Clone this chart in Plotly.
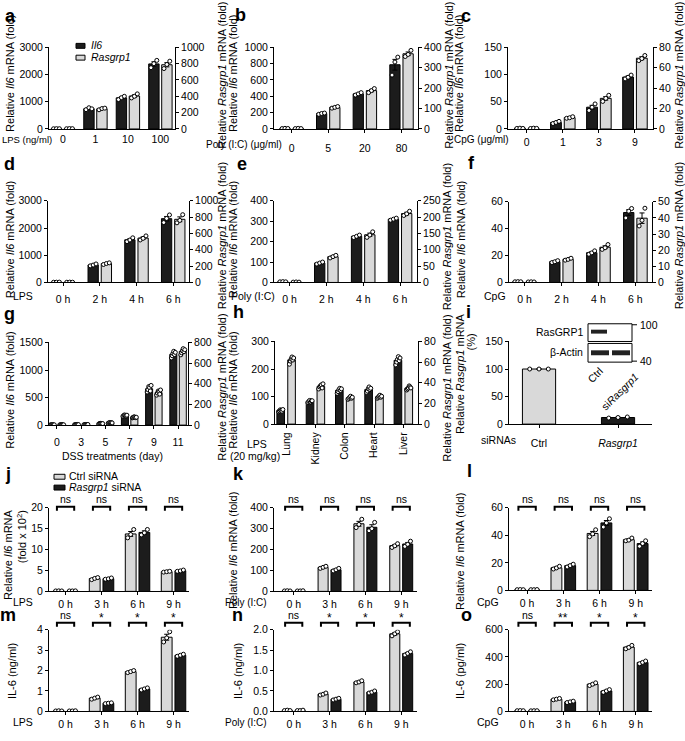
import numpy as np
import plotly.graph_objects as go

W, H = 685, 741
FONT = "Liberation Sans, Arial, Helvetica, sans-serif"
BLACK = "#1c1c1c"
GREY = "#d9d9d9"
TICK = 10.5
TITLE = 11

# ---------------- data (replicates per bar) ----------------
A_CATS = ["0", "1", "10", "100"]
A_IL6 = [[8, 12, 10], [710, 780, 740], [1080, 1150, 1200], [2250, 2400, 2520]]
A_RAS = [[3, 5, 4], [235, 250, 255], [380, 400, 430], [740, 790, 830]]

B_CATS = ["0", "5", "20", "80"]
B_IL6 = [[5, 8, 6], [180, 190, 195], [415, 430, 445], [660, 820, 880]]
B_RAS = [[2, 3, 2], [102, 106, 110], [178, 188, 198], [355, 365, 385]]

C_CATS = ["0", "1", "3", "9"]
C_IL6 = [[1, 1.5, 1], [10, 12, 14], [34, 40, 46], [92, 95, 99]]
C_RAS = [[0.5, 0.8, 0.6], [10.5, 11, 12], [27, 30, 33], [67, 69, 72]]

T_CATS = ["0 h", "2 h", "4 h", "6 h"]
D_IL6 = [[8, 10, 12], [610, 640, 680], [1500, 1560, 1640], [2200, 2350, 2480]]
D_RAS = [[3, 4, 3], [220, 232, 240], [520, 540, 570], [730, 760, 830]]
E_IL6 = [[3, 4, 3], [90, 95, 100], [220, 226, 232], [305, 310, 315]]
E_RAS = [[1, 1.5, 1], [75, 79, 83], [138, 145, 155], [205, 210, 218]]
F_IL6 = [[0.5, 0.6, 0.5], [14.8, 15.4, 16.2], [21, 22, 23.5], [48, 53, 55]]
F_RAS = [[0.3, 0.4, 0.3], [13.8, 14.3, 15], [20.5, 21.5, 23.5], [35, 38.5, 46]]

G_CATS = ["0", "3", "5", "7", "9", "11"]
G_IL6 = [[3, 5, 4, 6, 4, 5], [6, 9, 10, 8, 12, 9], [20, 28, 32, 25, 30, 27],
         [160, 175, 185, 170, 165, 180], [600, 640, 700, 680, 620, 720],
         [1220, 1260, 1300, 1340, 1280, 1320]]
G_RAS = [[2, 3, 3, 4, 2, 3], [4, 5, 6, 5, 4, 6], [18, 22, 25, 20, 24, 21],
         [70, 75, 80, 78, 72, 76], [290, 310, 330, 320, 300, 340],
         [680, 700, 720, 740, 710, 730]]

H_CATS = ["Lung", "Kidney", "Colon", "Heart", "Liver"]
H_IL6 = [[45, 48, 52, 50, 47, 53], [78, 82, 86, 80, 84, 85], [112, 118, 125, 130, 122, 128],
         [115, 120, 128, 135, 125, 130], [215, 225, 235, 245, 230, 240]]
H_RAS = [[58, 61, 63, 65, 62, 64], [34, 36, 37, 38, 35, 39], [24, 25, 26, 27, 25, 26],
         [25, 26, 27, 28, 26, 27], [33, 34, 35, 37, 36, 35]]

I_CATS = ["Ctrl", "<i>Rasgrp1</i>"]
I_VALS = [[100, 100, 100], [11, 12, 13]]

S_CATS = ["0 h", "3 h", "6 h", "9 h"]
J_CTRL = [[0.1, 0.12, 0.1], [2.8, 3.1, 3.3], [12.8, 13.6, 14.8], [4.6, 4.7, 4.8]]
J_RAS = [[0.1, 0.1, 0.12], [2.9, 3.0, 3.2], [13.5, 14.0, 14.8], [4.8, 4.9, 5.1]]
J_SIG = ["ns", "ns", "ns", "ns"]
K_CTRL = [[2, 3, 2], [110, 115, 120], [305, 320, 345], [210, 218, 228]]
K_RAS = [[2, 2, 3], [98, 103, 110], [290, 300, 330], [215, 225, 240]]
K_SIG = ["ns", "ns", "ns", "ns"]
L_CTRL = [[0.5, 0.6, 0.5], [15.5, 16.3, 17.5], [39, 41, 44], [36, 36.5, 38]]
L_RAS = [[0.5, 0.5, 0.6], [17, 18, 19], [46, 49, 52], [32, 34, 36]]
L_SIG = ["ns", "ns", "ns", "ns"]
M_CTRL = [[0.02, 0.03, 0.02], [0.6, 0.65, 0.7], [1.9, 1.95, 2.0], [3.4, 3.6, 3.9]]
M_RAS = [[0.02, 0.02, 0.03], [0.38, 0.4, 0.42], [1.05, 1.1, 1.15], [2.7, 2.75, 2.8]]
M_SIG = ["ns", "*", "*", "*"]
N_CTRL = [[0.02, 0.03, 0.02], [0.4, 0.42, 0.45], [0.7, 0.72, 0.75], [1.85, 1.9, 1.95]]
N_RAS = [[0.02, 0.02, 0.03], [0.28, 0.3, 0.32], [0.45, 0.47, 0.5], [1.38, 1.42, 1.46]]
N_SIG = ["ns", "*", "*", "*"]
O_CTRL = [[5, 6, 5], [85, 90, 95], [190, 200, 210], [460, 470, 485]]
O_RAS = [[4, 5, 5], [65, 70, 75], [140, 150, 160], [350, 360, 370]]
O_SIG = ["ns", "**", "*", "*"]

# ---------------- helpers ----------------
def X(p):
    return p / W


def Y(p):
    return 1 - p / H


layout_axes = {}
annotations = []
shapes = []
traces = []
cnt = {"x": 0, "y": 0}


def text(x, y, t, size=TITLE, angle=0, xanchor="center", bold=False, yanchor="middle"):
    if bold:
        t = "<b>" + t + "</b>"
    annotations.append(dict(x=X(x), y=Y(y), xref="paper", yref="paper", text=t, showarrow=False,
                            textangle=angle, xanchor=xanchor, yanchor=yanchor,
                            font=dict(family=FONT, size=size, color="black")))


def panel(box, xr, cats, axes, series, w, gap, xstand=0, xangle=0, xticks=True):
    L, R, T, B = box
    cnt["x"] += 1
    nx = cnt["x"]
    xid = "x" if nx == 1 else f"x{nx}"
    xkey = "xaxis" if nx == 1 else f"xaxis{nx}"
    yids = []
    for j, ax in enumerate(axes):
        cnt["y"] += 1
        ny = cnt["y"]
        yid = "y" if ny == 1 else f"y{ny}"
        ykey = "yaxis" if ny == 1 else f"yaxis{ny}"
        d = dict(domain=[Y(B), Y(T)], range=ax["range"], dtick=ax["dtick"], tick0=0,
                 anchor=xid, side=ax["side"], showline=True, linecolor="black", linewidth=1,
                 ticks="outside", ticklen=3, tickwidth=1, tickcolor="black", showgrid=False,
                 zeroline=False, tickfont=dict(family=FONT, size=TICK, color="black"),
                 fixedrange=True)
        if "fmt" in ax:
            d["tickformat"] = ax["fmt"]
        if j > 0:
            d["overlaying"] = yids[0]
        layout_axes[ykey] = d
        yids.append(yid)
    n = len(cats)
    layout_axes[xkey] = dict(domain=[X(L), X(R)], range=xr, anchor=yids[0],
                             tickvals=list(range(n)), ticktext=cats,
                             ticks="outside" if xticks else "", ticklen=3, tickwidth=1,
                             tickcolor="black", showline=True, linecolor="black", linewidth=1,
                             showgrid=False, zeroline=False, tickangle=xangle,
                             ticklabelstandoff=xstand,
                             tickfont=dict(family=FONT, size=TICK, color="black"),
                             fixedrange=True)
    idx = np.arange(n)
    for s in series:
        vals = s["data"]
        means = [float(np.mean(v)) for v in vals]
        sems = [float(np.std(v, ddof=1) / np.sqrt(len(v))) for v in vals]
        if s["pos"] == 0:
            off = -w - gap / 2
        elif s["pos"] == 1:
            off = gap / 2
        else:
            off = -w / 2
        centers = idx + off + w / 2
        yid = yids[s.get("axis", 0)]
        traces.append(go.Bar(x=idx, y=means, offset=off, width=w,
                             marker=dict(color=s["color"], line=dict(color="black", width=1)),
                             xaxis=xid, yaxis=yid, showlegend=False, hoverinfo="skip"))
        traces.append(go.Scatter(x=centers, y=means, mode="markers",
                                 marker=dict(size=2, color="rgba(0,0,0,0)"),
                                 error_y=dict(type="data", array=sems, color="black",
                                              thickness=1, width=2.5),
                                 xaxis=xid, yaxis=yid, showlegend=False, hoverinfo="skip"))
        pxs, pys = [], []
        for i, v in enumerate(vals):
            k = len(v)
            jit = np.linspace(-0.28, 0.28, k) * w
            pxs.extend(list(centers[i] + jit))
            pys.extend(v)
        traces.append(go.Scatter(x=pxs, y=pys, mode="markers",
                                 marker=dict(size=4, color="white",
                                             line=dict(color="black", width=1)),
                                 xaxis=xid, yaxis=yid, showlegend=False, hoverinfo="skip"))
    return xid


def brackets(xid, sig, top, half=0.24, drop=4, ty=None):
    for i, s in enumerate(sig):
        shapes.append(dict(type="path", xref=xid, yref="paper",
                           path=f"M {i - half},{Y(top + drop)} L {i - half},{Y(top)} "
                                f"L {i + half},{Y(top)} L {i + half},{Y(top + drop)}",
                           line=dict(color="black", width=2)))
        sz = TICK if s == "ns" else 12
        yy = ty if s == "ns" else ty + 3
        annotations.append(dict(x=i, y=Y(yy), xref=xid, yref="paper", text=s, showarrow=False,
                                xanchor="center", yanchor="middle",
                                font=dict(family=FONT, size=sz, color="black")))


IL6L = "Relative <i>Il6</i> mRNA (fold)"
RASR = "Relative <i>Rasgrp1</i> mRNA (fold)"

# ---------------- row 1 ----------------
panel((49, 175, 42, 125), [-0.43, 3.45], A_CATS,
      [dict(range=[0, 3000], dtick=1000, side="left"), dict(range=[0, 1000], dtick=200, side="right")],
      [dict(data=A_IL6, color=BLACK, pos=0, axis=0), dict(data=A_RAS, color=GREY, pos=1, axis=1)],
      w=0.32, gap=0.08, xstand=0, xticks=False)
panel((274, 418, 42, 125), [-0.48, 3.45], B_CATS,
      [dict(range=[0, 1000], dtick=200, side="left"), dict(range=[0, 400], dtick=100, side="right")],
      [dict(data=B_IL6, color=BLACK, pos=0, axis=0), dict(data=B_RAS, color=GREY, pos=1, axis=1)],
      w=0.28, gap=0.08, xstand=6)
panel((508, 653, 42, 125), [-0.52, 3.5], C_CATS,
      [dict(range=[0, 150], dtick=50, side="left"), dict(range=[0, 80], dtick=20, side="right")],
      [dict(data=C_IL6, color=BLACK, pos=0, axis=0), dict(data=C_RAS, color=GREY, pos=1, axis=1)],
      w=0.3, gap=0.08, xstand=0)

# ---------------- row 2 ----------------
panel((48, 189, 198, 281), [-0.41, 3.43], T_CATS,
      [dict(range=[0, 3000], dtick=1000, side="left"), dict(range=[0, 1000], dtick=200, side="right")],
      [dict(data=D_IL6, color=BLACK, pos=0, axis=0), dict(data=D_RAS, color=GREY, pos=1, axis=1)],
      w=0.28, gap=0.08, xstand=4)
panel((274, 417, 198, 281), [-0.42, 3.46], T_CATS,
      [dict(range=[0, 400], dtick=100, side="left"), dict(range=[0, 250], dtick=50, side="right")],
      [dict(data=E_IL6, color=BLACK, pos=0, axis=0), dict(data=E_RAS, color=GREY, pos=1, axis=1)],
      w=0.28, gap=0.08, xstand=4)
panel((509, 652, 199, 281), [-0.42, 3.45], T_CATS,
      [dict(range=[0, 60], dtick=20, side="left"), dict(range=[0, 50], dtick=10, side="right")],
      [dict(data=F_IL6, color=BLACK, pos=0, axis=0), dict(data=F_RAS, color=GREY, pos=1, axis=1)],
      w=0.28, gap=0.08, xstand=4)

# ---------------- row 3 ----------------
panel((49, 188, 342, 426), [-0.33, 5.41], G_CATS,
      [dict(range=[0, 1500], dtick=500, side="left"), dict(range=[0, 800], dtick=200, side="right")],
      [dict(data=G_IL6, color=BLACK, pos=0, axis=0), dict(data=G_RAS, color=GREY, pos=1, axis=1)],
      w=0.29, gap=0.1, xstand=4)
panel((275, 418, 341, 425), [-0.38, 4.5], H_CATS,
      [dict(range=[0, 300], dtick=100, side="left"), dict(range=[0, 80], dtick=20, side="right")],
      [dict(data=H_IL6, color=BLACK, pos=0, axis=0), dict(data=H_RAS, color=GREY, pos=1, axis=1)],
      w=0.26, gap=0.11, xstand=0, xangle=-90)
panel((509, 652, 341, 425), [-0.38, 1.43], I_CATS,
      [dict(range=[0, 150], dtick=50, side="left")],
      [dict(data=I_VALS, color=[GREY, BLACK], pos=2, axis=0)],
      w=0.42, gap=0, xstand=6)

# ---------------- row 4 ----------------
xj = panel((49, 189, 510, 595), [-0.46, 3.43], S_CATS,
           [dict(range=[0, 20], dtick=5, side="left")],
           [dict(data=J_CTRL, color=GREY, pos=0), dict(data=J_RAS, color=BLACK, pos=1)],
           w=0.3, gap=0.08, xstand=0)
xk = panel((274, 417, 510, 595), [-0.55, 3.44], S_CATS,
           [dict(range=[0, 400], dtick=100, side="left")],
           [dict(data=K_CTRL, color=GREY, pos=0), dict(data=K_RAS, color=BLACK, pos=1)],
           w=0.28, gap=0.08, xstand=0)
xl = panel((509, 652, 510, 594), [-0.5, 3.45], S_CATS,
           [dict(range=[0, 60], dtick=20, side="left")],
           [dict(data=L_CTRL, color=GREY, pos=0), dict(data=L_RAS, color=BLACK, pos=1)],
           w=0.3, gap=0.08, xstand=0)
brackets(xj, J_SIG, 509, ty=501)
brackets(xk, K_SIG, 509, ty=501)
brackets(xl, L_SIG, 509, ty=501)

# ---------------- row 5 ----------------
R5T, R5B = 634, 717
xm = panel((49, 189, R5T, R5B), [-0.46, 3.43], S_CATS,
           [dict(range=[0, 4], dtick=1, side="left")],
           [dict(data=M_CTRL, color=GREY, pos=0), dict(data=M_RAS, color=BLACK, pos=1)],
           w=0.3, gap=0.08, xstand=0)
xn = panel((274, 417, R5T, R5B), [-0.55, 3.44], S_CATS,
           [dict(range=[0, 2], dtick=0.5, side="left", fmt=".1f")],
           [dict(data=N_CTRL, color=GREY, pos=0), dict(data=N_RAS, color=BLACK, pos=1)],
           w=0.28, gap=0.08, xstand=0)
xo = panel((509, 652, R5T, R5B), [-0.5, 3.45], S_CATS,
           [dict(range=[0, 600], dtick=200, side="left")],
           [dict(data=O_CTRL, color=GREY, pos=0), dict(data=O_RAS, color=BLACK, pos=1)],
           w=0.3, gap=0.08, xstand=0)
brackets(xm, M_SIG, 627, ty=619)
brackets(xn, N_SIG, 627, ty=619)
brackets(xo, O_SIG, 627, ty=619)

# ---------------- texts ----------------
for lt, x, y in [("a", 10, 10), ("b", 240, 9), ("c", 466, 10), ("d", 9, 161), ("e", 242, 161),
                 ("f", 471, 160), ("g", 9, 313), ("h", 238, 311), ("i", 468, 311),
                 ("j", 8, 476), ("k", 238, 476), ("l", 469, 473), ("m", 8, 619),
                 ("n", 237, 619), ("o", 466, 619)]:
    text(x, y, lt, size=18, bold=True)

# y titles
for x, y, t in [(10, 69, IL6L), (222, 71, RASR), (233, 69, IL6L), (449, 71, RASR),
                (459, 69, IL6L), (679, 71, RASR),
                (10, 238, IL6L), (222, 234, RASR), (233, 238, IL6L), (447, 234, RASR),
                (461, 238, IL6L), (679, 234, RASR),
                (10, 391, IL6L), (222, 388, RASR), (233, 391, IL6L), (447, 388, RASR),
                (460, 374, "Relative <i>Rasgrp1</i> mRNA"), (471, 342, "(%)"),
                (8, 558, "Relative <i>Il6</i> mRNA"), (22, 540, "(fold x 10<sup>2</sup>)"),
                (233, 554, IL6L), (460, 554, IL6L),
                (12, 676, "IL-6 (ng/ml)"), (238, 676, "IL-6 (ng/ml)"), (460, 676, "IL-6 (pg/ml)")]:
    text(x, y, t, angle=-90)

# x prefix labels
text(0, 136, "LPS (ng/ml)", size=9.5, xanchor="left")
text(284, 141, "Poly (I:C) (μg/ml)", size=10, xanchor="right")
text(511, 136, "CpG (μg/ml)", size=10, xanchor="right")
text(23, 295, "LPS", size=TICK)
text(253, 295, "Poly (I:C)", size=TICK)
text(495, 295, "CpG", size=TICK)
text(112, 457, "DSS treatments (day)", size=TICK)
text(257, 445, "LPS", size=TICK)
text(255, 457, "(20 mg/kg)", size=TICK)
text(498, 441, "siRNAs", size=TICK)
for yy in (606, 728):
    text(23, yy, "LPS", size=TICK)
    text(246, yy, "Poly (I:C)", size=10)
    text(488, yy, "CpG", size=TICK)

# legends
def legend_box(x0, y0, x1, y1, color):
    shapes.append(dict(type="rect", xref="paper", yref="paper", x0=X(x0), x1=X(x1),
                       y0=Y(y1), y1=Y(y0), fillcolor=color, line=dict(color="black", width=1)))


legend_box(76, 38, 85, 43, BLACK)
text(89, 40, "<i>Il6</i>", size=TICK, xanchor="left")
legend_box(76, 50, 85, 55, GREY)
text(89, 52, "<i>Rasgrp1</i>", size=TICK, xanchor="left")
legend_box(54, 476, 65, 481, GREY)
text(67, 478, "Ctrl siRNA", size=TICK, xanchor="left")
legend_box(54, 487, 65, 492, BLACK)
text(67, 489, "<i>Rasgrp1</i> siRNA", size=TICK, xanchor="left")

# western blot inset
legend_box(588, 323, 632, 341, "white")
legend_box(588, 343, 632, 362, "white")
shapes.append(dict(type="rect", xref="paper", yref="paper", x0=X(591), x1=X(607), y0=Y(333),
                   y1=Y(329), fillcolor="#222", line=dict(width=0)))
shapes.append(dict(type="rect", xref="paper", yref="paper", x0=X(591), x1=X(609), y0=Y(355),
                   y1=Y(350), fillcolor="#222", line=dict(width=0)))
shapes.append(dict(type="rect", xref="paper", yref="paper", x0=X(612), x1=X(630), y0=Y(355),
                   y1=Y(350), fillcolor="#222", line=dict(width=0)))
for yy in (324, 361):
    shapes.append(dict(type="line", xref="paper", yref="paper", x0=X(632), x1=X(637),
                       y0=Y(yy), y1=Y(yy), line=dict(color="black", width=1)))
text(638, 324, "100", size=TICK, xanchor="left")
text(638, 361, "40", size=TICK, xanchor="left")
text(585, 331, "RasGRP1", size=TICK, xanchor="right")
text(585, 352, "β-Actin", size=TICK, xanchor="right")
text(595, 375, "Ctrl", size=TICK, angle=-45)
text(619, 392, "si<i>Rasgrp1</i>", size=TICK, angle=-45)

fig = go.Figure(data=traces)
fig.update_layout(width=W, height=H, margin=dict(l=0, r=0, t=0, b=0),
                  paper_bgcolor="white", plot_bgcolor="rgba(0,0,0,0)",
                  font=dict(family=FONT, size=TICK, color="black"),
                  barmode="overlay", showlegend=False,
                  annotations=annotations, shapes=shapes, **layout_axes)
fig.write_html("out.html", config={"displayModeBar": False},
               post_script="document.body.style.margin='0';")
